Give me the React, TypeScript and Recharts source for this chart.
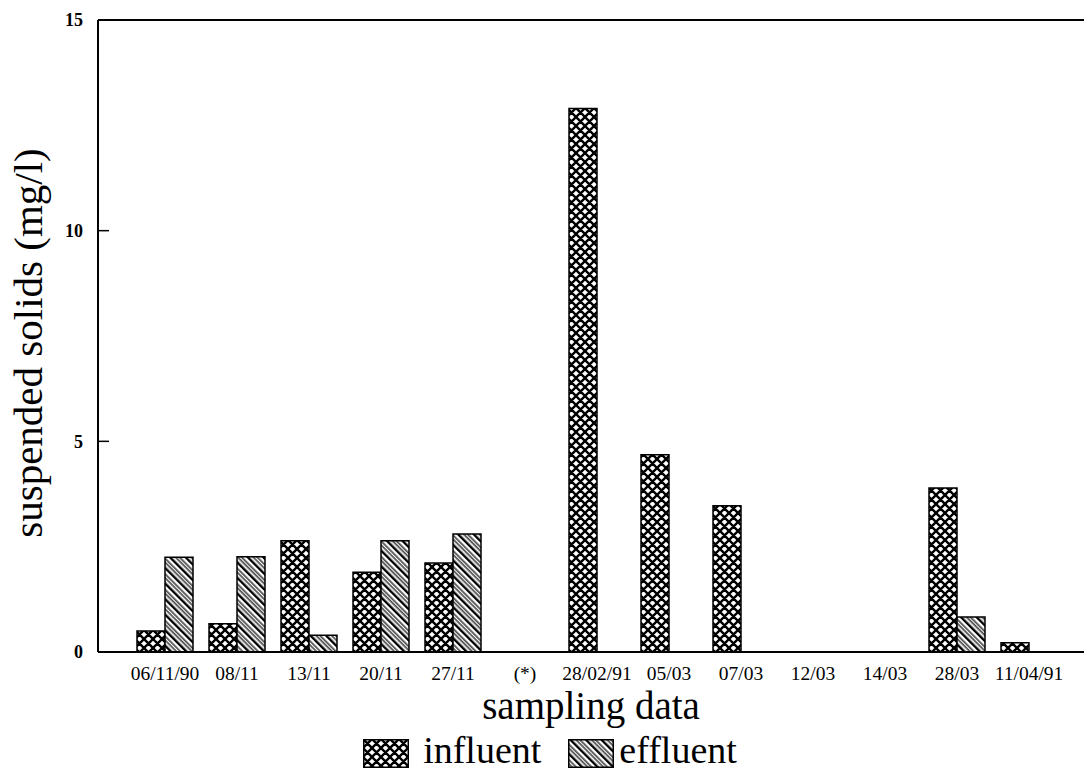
import React from 'react';
import { BarChart, Bar, XAxis, YAxis, ReferenceLine, Legend } from 'recharts';

// sampling dates (x categories)
const dates = [
  '06/11/90', '08/11', '13/11', '20/11', '27/11', '(*)',
  '28/02/91', '05/03', '07/03', '12/03', '14/03', '28/03', '11/04/91',
];
// suspended solids, mg/l
const influent = [0.5, 0.67, 2.64, 1.89, 2.11, 0, 12.9, 4.68, 3.47, 0, 0, 3.89, 0.22];
const effluent = [2.25, 2.26, 0.4, 2.64, 2.8, 0, 0, 0, 0, 0, 0, 0.83, 0];
const yTicks = [0, 5, 10, 15];

const data = dates.map((d, i) => ({ date: d, influent: influent[i], effluent: effluent[i] }));

const FONT = '"Liberation Serif", "Times New Roman", "DejaVu Serif", serif';

const Patterns = ({ prefix }: { prefix: string }) => (
  <defs>
    <pattern id={`${prefix}-cross`} width={9} height={9} patternUnits="userSpaceOnUse">
      <rect width={9} height={9} fill="#fff" />
      <path d="M0,0 L9,9 M9,0 L0,9 M-1,8 L1,10 M8,-1 L10,1 M-1,1 L1,-1 M8,10 L10,8" stroke="#000" strokeWidth={2.4} />
    </pattern>
    <pattern id={`${prefix}-diag`} width={11} height={11} patternUnits="userSpaceOnUse" patternTransform="rotate(-45)">
      <rect width={11} height={11} fill="#fff" />
      <rect x={0} y={0} width={2.4} height={11} fill="#000" />
      <rect x={4.5} y={0} width={1.2} height={11} fill="#000" />
      <rect x={7.3} y={0} width={1.2} height={11} fill="#000" />
    </pattern>
  </defs>
);

const XTick = (props: any) => {
  const { x, y, payload } = props;
  return (
    <text x={x} y={y + 26} textAnchor="middle" fontFamily={FONT} fontSize={19.5} fill="#000">
      {payload.value}
    </text>
  );
};

const YTick = (props: any) => {
  const { x, y, payload } = props;
  return (
    <g>
      <text x={x} y={y} dy="0.35em" textAnchor="end" fontFamily={FONT} fontSize={18} fontWeight="bold" fill="#000">
        {payload.value}
      </text>
      <line x1={x + 15} x2={x + 26} y1={y} y2={y} stroke="#000" strokeWidth={1.5} />
    </g>
  );
};

const YLabel = (props: any) => {
  const vb = props.viewBox;
  const cx = vb.x + 42;
  const cy = vb.y + vb.height / 2 + 7;
  return (
    <text x={cx} y={cy} transform={`rotate(-90, ${cx}, ${cy})`} textAnchor="middle" fontFamily={FONT} fontSize={41} fill="#000">
      suspended solids (mg/l)
    </text>
  );
};

const XLabel = (props: any) => {
  const vb = props.viewBox;
  return (
    <text x={vb.x + vb.width / 2} y={vb.y + 67} textAnchor="middle" fontFamily={FONT} fontSize={39} fill="#000">
      sampling data
    </text>
  );
};

const LegendBox = () => (
  <div style={{ display: 'flex', justifyContent: 'center', alignItems: 'flex-end', fontFamily: FONT, fontSize: 38, lineHeight: '36px', paddingLeft: 16 }}>
    <svg width={46} height={29} style={{ marginRight: 14 }}>
      <Patterns prefix="lg" />
      <rect x={0.75} y={0.75} width={44.5} height={27.5} fill="url(#lg-cross)" stroke="#000" strokeWidth={1.5} />
    </svg>
    <span style={{ marginRight: 27 }}>influent</span>
    <svg width={46} height={29} style={{ marginRight: 5 }}>
      <rect x={0.75} y={0.75} width={44.5} height={27.5} fill="url(#lg-diag)" stroke="#000" strokeWidth={1.5} />
    </svg>
    <span>effluent</span>
  </div>
);

export default function App() {
  return (
    <div style={{ position: 'absolute', left: 0, top: 0, background: '#fff' }}>
      <BarChart
        width={1084}
        height={773}
        data={data}
        margin={{ top: 20, right: 0, left: 0, bottom: 5 }}
        barSize={28}
        barGap={0}
      >
        <Patterns prefix="ch" />
        <XAxis
          dataKey="date"
          interval={0}
          padding={{ left: 31, right: 19 }}
          height={80}
          tickSize={0}
          tickLine={false}
          axisLine={{ stroke: '#000', strokeWidth: 2 }}
          tick={<XTick />}
          label={<XLabel />}
        />
        <YAxis
          width={98}
          domain={[0, 15]}
          ticks={yTicks}
          tickSize={0}
          tickMargin={15}
          tickLine={false}
          axisLine={{ stroke: '#000', strokeWidth: 2 }}
          tick={<YTick />}
          label={<YLabel />}
        />
        <ReferenceLine y={15} stroke="#000" strokeWidth={2} />
        <Legend verticalAlign="bottom" height={36} content={<LegendBox />} />
        <Bar dataKey="influent" name="influent" fill="url(#ch-cross)" stroke="#000" strokeWidth={1.5} isAnimationActive={false} />
        <Bar dataKey="effluent" name="effluent" fill="url(#ch-diag)" stroke="#000" strokeWidth={1.5} isAnimationActive={false} />
      </BarChart>
    </div>
  );
}
